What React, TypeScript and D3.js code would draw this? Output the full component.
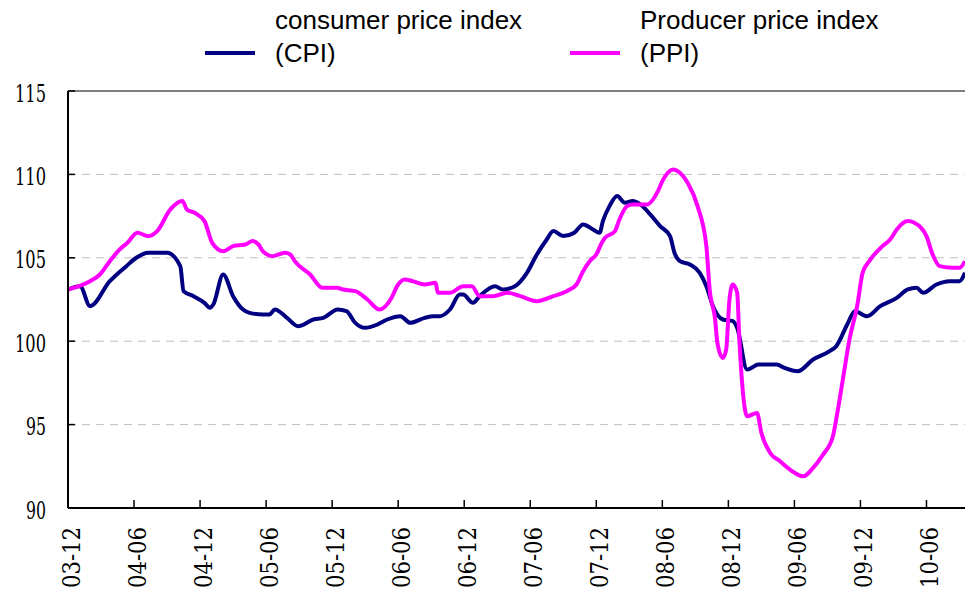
import React, { useEffect, useRef } from "react";
import * as d3 from "d3";

// months since 2003-12
const cpiMonths = [0, 1.1, 2.0, 3.8, 5.3, 6.2, 7.3, 9.0, 10.2, 10.5, 11.4, 12.4, 12.9, 13.2, 14.1, 15.0, 15.9, 16.5, 17.7, 18.3, 18.8, 19.9, 20.9, 22.3, 23.2, 24.5, 25.3, 26.1, 27.0, 28.1, 29.0, 30.2, 31.1, 32.4, 33.2, 33.8, 34.7, 35.6, 35.9, 36.8, 37.4, 38.8, 39.5, 40.6, 41.7, 42.6, 43.5, 44.1, 45.0, 46.0, 46.8, 47.7, 48.3, 48.6, 49.2, 49.9, 50.6, 51.3, 52.0, 52.9, 53.8, 54.7, 55.1, 55.6, 56.5, 57.4, 58.0, 58.6, 59.5, 60.4, 60.8, 61.7, 62.1, 62.7, 64.4, 65.1, 66.3, 67.7, 69.2, 69.8, 70.8, 71.5, 72.6, 73.8, 75.3, 76.3, 77.1, 77.7, 78.9, 80.1, 81.0, 81.5];
const cpiValues = [103.1, 103.3, 102.1, 103.6, 104.5, 105.0, 105.3, 105.3, 104.5, 103.0, 102.7, 102.3, 102.0, 102.2, 104.0, 102.7, 101.9, 101.7, 101.6, 101.6, 101.9, 101.4, 100.9, 101.3, 101.4, 101.9, 101.8, 101.1, 100.8, 101.0, 101.3, 101.5, 101.1, 101.4, 101.5, 101.5, 101.9, 102.8, 102.8, 102.3, 102.7, 103.3, 103.1, 103.3, 104.1, 105.2, 106.1, 106.6, 106.3, 106.5, 107.0, 106.7, 106.5, 107.2, 108.1, 108.7, 108.3, 108.4, 108.2, 107.6, 106.9, 106.3, 105.3, 104.8, 104.6, 104.1, 103.3, 102.1, 101.3, 101.2, 100.8, 98.3, 98.4, 98.6, 98.6, 98.4, 98.2, 98.9, 99.4, 99.7, 101.0, 101.8, 101.5, 102.1, 102.6, 103.1, 103.2, 102.9, 103.4, 103.6, 103.6, 104.1];

const ppiMonths = [0, 2.0, 2.9, 3.8, 4.7, 5.4, 6.3, 7.3, 8.1, 9.3, 10.4, 10.8, 11.5, 12.4, 13.1, 14.1, 15.0, 16.1, 16.8, 17.3, 17.7, 18.6, 19.7, 20.2, 20.6, 22.0, 23.1, 24.4, 25.0, 26.1, 27.2, 28.3, 29.4, 29.9, 30.6, 31.3, 32.4, 33.4, 33.6, 34.7, 35.9, 36.7, 37.4, 38.6, 39.9, 41.1, 42.6, 44.1, 45.3, 46.2, 46.8, 47.4, 48.0, 48.5, 48.8, 49.7, 50.1, 50.8, 51.3, 52.6, 53.6, 54.0, 55.0, 55.6, 56.3, 57.2, 58.0, 58.3, 58.8, 59.0, 59.5, 59.8, 60.1, 60.4, 60.8, 61.0, 61.3, 61.7, 62.6, 63.0, 63.8, 64.7, 65.6, 66.8, 67.7, 68.6, 69.5, 69.9, 70.4, 71.0, 71.7, 72.2, 72.8, 74.0, 74.7, 75.3, 76.3, 76.9, 78.0, 78.5, 79.2, 80.4, 81.0, 81.5];
const ppiValues = [103.1, 103.6, 104.0, 104.8, 105.5, 105.9, 106.5, 106.3, 106.6, 107.9, 108.4, 107.9, 107.7, 107.2, 105.9, 105.4, 105.7, 105.8, 106.0, 105.8, 105.4, 105.1, 105.3, 105.2, 104.8, 104.0, 103.2, 103.2, 103.1, 103.0, 102.5, 101.9, 102.6, 103.3, 103.7, 103.6, 103.4, 103.5, 102.9, 102.9, 103.3, 103.3, 102.7, 102.7, 102.9, 102.7, 102.4, 102.7, 103.0, 103.4, 104.2, 104.8, 105.2, 105.9, 106.2, 106.6, 107.3, 108.1, 108.2, 108.2, 109.0, 109.6, 110.3, 110.1, 109.5, 108.1, 105.7, 103.1, 101.3, 99.9, 99.0, 99.5, 102.5, 103.4, 102.9, 100.1, 97.1, 95.5, 95.7, 94.5, 93.3, 92.8, 92.3, 91.9, 92.4, 93.2, 94.3, 95.7, 97.7, 100.1, 102.1, 104.1, 104.8, 105.7, 106.1, 106.7, 107.2, 107.1, 106.3, 105.3, 104.5, 104.4, 104.4, 104.8];

const tickMonths = [0, 6, 12, 18, 24, 30, 36, 42, 48, 54, 60, 66, 72, 78];
const tickLabels = ["03-12", "04-06", "04-12", "05-06", "05-12", "06-06", "06-12", "07-06", "07-12", "08-06", "08-12", "09-06", "09-12", "10-06"];
const yTicks = [90, 95, 100, 105, 110, 115];

const seriesNames = ["consumer price index", "(CPI)", "Producer price index", "(PPI)"];
const CPI_COLOR = "#000080";
const PPI_COLOR = "#FF00FF";
const SERIF = "DejaVu Serif";
const SANS = '"Liberation Sans", Arial, sans-serif';

export default function App() {
  const ref = useRef<SVGSVGElement | null>(null);

  useEffect(() => {
    const svg = d3.select(ref.current);
    svg.selectAll("*").remove();

    const left = 68, right = 965, top = 91, bottom = 508;
    const x = d3.scaleLinear().domain([0, 81.5]).range([left, right]);
    const y = d3.scaleLinear().domain([90, 115]).range([bottom, top]);

    svg.append("g")
      .selectAll("line")
      .data(yTicks.filter((v) => v !== 90 && v !== 115))
      .join("line")
      .attr("x1", left).attr("x2", right)
      .attr("y1", (d) => y(d)).attr("y2", (d) => y(d))
      .attr("stroke", "#c0c0c0").attr("stroke-width", 1)
      .attr("stroke-dasharray", "8,6");

    svg.append("line")
      .attr("x1", left).attr("x2", right)
      .attr("y1", y(115)).attr("y2", y(115))
      .attr("stroke", "#555").attr("stroke-width", 1.5);

    const mk = (ms: number[], vs: number[]) =>
      d3.line<number>()
        .x((_, i) => x(ms[i]))
        .y((d) => y(d))
        .curve(d3.curveMonotoneX)(vs);

    svg.append("path")
      .attr("d", mk(cpiMonths, cpiValues) || "")
      .attr("fill", "none").attr("stroke", CPI_COLOR)
      .attr("stroke-width", 4).attr("stroke-linejoin", "round");
    svg.append("path")
      .attr("d", mk(ppiMonths, ppiValues) || "")
      .attr("fill", "none").attr("stroke", PPI_COLOR)
      .attr("stroke-width", 4).attr("stroke-linejoin", "round");

    svg.append("line")
      .attr("x1", left).attr("x2", left).attr("y1", top).attr("y2", bottom)
      .attr("stroke", "#000").attr("stroke-width", 2);
    svg.append("line")
      .attr("x1", left).attr("x2", right).attr("y1", bottom).attr("y2", bottom)
      .attr("stroke", "#000").attr("stroke-width", 2);

    svg.append("g").selectAll("line").data(yTicks).join("line")
      .attr("x1", left).attr("x2", left + 7)
      .attr("y1", (d) => y(d)).attr("y2", (d) => y(d))
      .attr("stroke", "#000").attr("stroke-width", 1.5);
    svg.append("g").selectAll("text").data(yTicks).join("text")
      .attr("x", 46).attr("y", (d) => y(d) + 10.5)
      .attr("text-anchor", "end")
      .attr("font-family", SERIF)
      .attr("font-size", 24)
      .attr("textLength", (d) => (String(d).length === 3 ? 31 : 20))
      .attr("lengthAdjust", "spacingAndGlyphs")
      .attr("fill", "#000")
      .text((d) => String(d));

    svg.append("g").selectAll("line").data(tickMonths.slice(1)).join("line")
      .attr("x1", (d) => x(d)).attr("x2", (d) => x(d))
      .attr("y1", bottom).attr("y2", bottom - 8)
      .attr("stroke", "#000").attr("stroke-width", 1.5);
    svg.append("g").selectAll("text").data(tickMonths).join("text")
      .attr("transform", (d) => `translate(${x(d) + 12},527) rotate(-90)`)
      .attr("text-anchor", "end")
      .attr("font-family", SERIF)
      .attr("font-size", 25)
      .attr("textLength", 61)
      .attr("lengthAdjust", "spacingAndGlyphs")
      .attr("fill", "#000")
      .text((_, i) => tickLabels[i]);

    const lg = svg.append("g");
    lg.append("line").attr("x1", 205).attr("x2", 255).attr("y1", 53).attr("y2", 53)
      .attr("stroke", CPI_COLOR).attr("stroke-width", 4);
    lg.append("line").attr("x1", 570).attr("x2", 620).attr("y1", 53).attr("y2", 53)
      .attr("stroke", PPI_COLOR).attr("stroke-width", 4);
    const legendText = [
      { t: seriesNames[0], x: 275, y: 29 },
      { t: seriesNames[1], x: 275, y: 62 },
      { t: seriesNames[2], x: 640, y: 29 },
      { t: seriesNames[3], x: 640, y: 62 },
    ];
    lg.selectAll("text").data(legendText).join("text")
      .attr("x", (d) => d.x).attr("y", (d) => d.y)
      .style("font-family", SANS)
      .style("font-size", "26px")
      .attr("fill", "#000")
      .text((d) => d.t);
  }, []);

  return (
    <svg
      ref={ref}
      width={965}
      height={594}
      style={{ position: "absolute", left: 0, top: 0, background: "#fff" }}
    />
  );
}
